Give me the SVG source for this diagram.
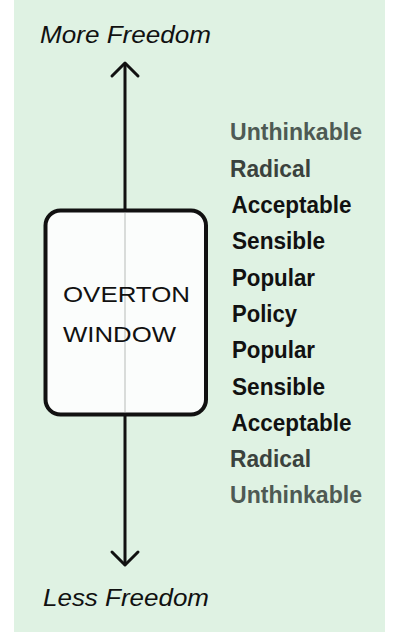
<svg xmlns="http://www.w3.org/2000/svg" width="400" height="632" viewBox="0 0 400 632">
<style>
.axis{font-family:"Liberation Sans",Arial,sans-serif;font-style:italic;font-size:23px;fill:#111}
.lbl{font-family:"Liberation Sans",Arial,sans-serif;font-weight:bold;font-size:23px;fill:#111}
.far{fill:#4e5a54}
.mid{fill:#3a423d}
.win{font-family:"Liberation Sans",Arial,sans-serif;font-size:22px;fill:#111}
.ln{stroke:#111;stroke-width:3;fill:none;stroke-linecap:round;stroke-linejoin:round}
</style>
<rect x="0" y="0" width="400" height="632" fill="#ffffff"/>
<rect x="14" y="0" width="371" height="632" fill="#dff2e3"/>
<g id="connectors">
<path class="ln" d="M125 64 V210"/>
<path class="ln" d="M112 76 L125 63 L138 76"/>
<path class="ln" d="M125 415 V564"/>
<path class="ln" d="M112 552 L125 565 L138 552"/>
</g>
<g id="window">
<rect x="45.5" y="210.5" width="160.5" height="204" rx="15" fill="#fbfdfc" stroke="#111" stroke-width="4"/>
<line x1="125" y1="213" x2="125" y2="412" stroke="#d9dcda" stroke-width="2"/>
<text class="win" x="63" y="302" textLength="127" lengthAdjust="spacingAndGlyphs">OVERTON</text>
<text class="win" x="63" y="342" textLength="113" lengthAdjust="spacingAndGlyphs">WINDOW</text>
</g>
<g id="more-freedom"><text class="axis" x="40" y="43" textLength="171" lengthAdjust="spacingAndGlyphs">More Freedom</text></g>
<g id="less-freedom"><text class="axis" x="43" y="606" textLength="166" lengthAdjust="spacingAndGlyphs">Less Freedom</text></g>
<g id="labels">
<text class="lbl far" x="230" y="140" textLength="132" lengthAdjust="spacingAndGlyphs">Unthinkable</text>
<text class="lbl mid" x="230" y="176.5" textLength="81" lengthAdjust="spacingAndGlyphs">Radical</text>
<text class="lbl" x="231.5" y="212.5" textLength="120" lengthAdjust="spacingAndGlyphs">Acceptable</text>
<text class="lbl" x="232" y="249" textLength="93" lengthAdjust="spacingAndGlyphs">Sensible</text>
<text class="lbl" x="232" y="285.5" textLength="83" lengthAdjust="spacingAndGlyphs">Popular</text>
<text class="lbl" x="232" y="322" textLength="65" lengthAdjust="spacingAndGlyphs">Policy</text>
<text class="lbl" x="232" y="358" textLength="83" lengthAdjust="spacingAndGlyphs">Popular</text>
<text class="lbl" x="232" y="394.5" textLength="93" lengthAdjust="spacingAndGlyphs">Sensible</text>
<text class="lbl" x="231.5" y="430.5" textLength="120" lengthAdjust="spacingAndGlyphs">Acceptable</text>
<text class="lbl mid" x="230" y="467" textLength="81" lengthAdjust="spacingAndGlyphs">Radical</text>
<text class="lbl far" x="230" y="503" textLength="132" lengthAdjust="spacingAndGlyphs">Unthinkable</text>
</g>
</svg>
